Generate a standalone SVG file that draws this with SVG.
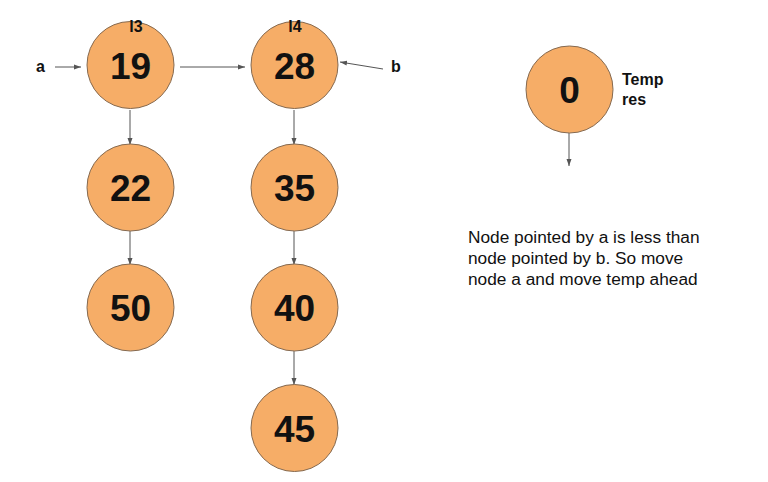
<svg xmlns="http://www.w3.org/2000/svg" width="768" height="482" viewBox="0 0 768 482">
<defs>
<marker id="ah" markerWidth="8" markerHeight="8" refX="7" refY="4" orient="auto" markerUnits="userSpaceOnUse">
<path d="M0,1.5 L7,4 L0,6.5 Z" fill="#555"/>
</marker>
<style>
.n circle{fill:#F6AD67;stroke:#85694f;stroke-width:1}
.n text{font-family:"Liberation Sans",Arial,sans-serif;font-weight:bold;font-size:37px;fill:#111;text-anchor:middle}
.lbl{font-family:"Liberation Sans",Arial,sans-serif;font-weight:bold;font-size:16px;fill:#111}
.c line{stroke:#555;stroke-width:1;marker-end:url(#ah)}
.para{font-family:"Liberation Sans",Arial,sans-serif;font-size:17.3px;fill:#111}
</style>
</defs>
<rect width="768" height="482" fill="#fff"/>
<g id="connectors" class="c">
<line x1="55" y1="67" x2="81" y2="67"/>
<line x1="180" y1="67" x2="245" y2="67"/>
<line x1="383" y1="69" x2="340" y2="62"/>
<line x1="130" y1="110" x2="130" y2="145"/>
<line x1="130" y1="231" x2="130" y2="265"/>
<line x1="294" y1="110" x2="294" y2="145"/>
<line x1="294" y1="231" x2="294" y2="265"/>
<line x1="294" y1="351" x2="294" y2="385"/>
<line x1="569" y1="133" x2="569" y2="166"/>
</g>
<g id="node19" class="n"><circle cx="130.5" cy="65" r="43.5"/><text x="130.5" y="78.5">19</text></g>
<g id="node28" class="n"><circle cx="294.5" cy="65" r="43.5"/><text x="294.5" y="78.5">28</text></g>
<g id="node22" class="n"><circle cx="130.5" cy="187.5" r="43.5"/><text x="130.5" y="201">22</text></g>
<g id="node35" class="n"><circle cx="294.5" cy="187.5" r="43.5"/><text x="294.5" y="201">35</text></g>
<g id="node50" class="n"><circle cx="130.5" cy="307.5" r="43.5"/><text x="130.5" y="321">50</text></g>
<g id="node40" class="n"><circle cx="294.5" cy="307.5" r="43.5"/><text x="294.5" y="321">40</text></g>
<g id="node45" class="n"><circle cx="294.5" cy="428" r="43.5"/><text x="294.5" y="441.5">45</text></g>
<g id="node0" class="n"><circle cx="569.5" cy="89.5" r="43.5"/><text x="569.5" y="103">0</text></g>
<g id="labels">
<text class="lbl" x="136" y="32" text-anchor="middle">l3</text>
<text class="lbl" x="295" y="32" text-anchor="middle">l4</text>
<text class="lbl" x="36" y="72">a</text>
<text class="lbl" x="391" y="72">b</text>
<text class="lbl" x="622" y="85">Temp</text>
<text class="lbl" x="622" y="105">res</text>
</g>
<g id="note">
<text class="para" x="468" y="243">Node pointed by a is less than</text>
<text class="para" x="468" y="264">node pointed by b. So move</text>
<text class="para" x="468" y="285">node a and move temp ahead</text>
</g>
</svg>
